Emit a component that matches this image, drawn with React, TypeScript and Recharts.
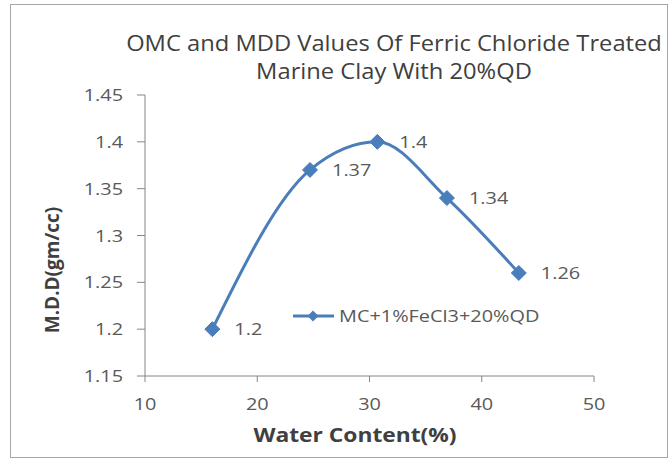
import React from 'react';
import { LineChart, Line, XAxis, YAxis, LabelList, Legend, Label } from 'recharts';

const waterContent = [16, 24.7, 30.7, 36.9, 43.3];
const mdd = [1.2, 1.37, 1.4, 1.34, 1.26];
const xTicks = [10, 20, 30, 40, 50];
const yTicks = [1.15, 1.2, 1.25, 1.3, 1.35, 1.4, 1.45];
const seriesName = 'MC+1%FeCl3+20%QD';
const titleLines = ['OMC and MDD Values Of Ferric Chloride Treated', 'Marine Clay With 20%QD'];
const xTitle = 'Water Content(%)';
const yTitle = 'M.D.D(gm/cc)';

const data = waterContent.map((x, i) => ({ x, y: mdd[i] }));

const BLUE = '#4A7EBB';
const TEXT = '#595959';
const DARK = '#404040';
const AXIS = '#868686';
const FONT = '"Open Sans", "Noto Sans", sans-serif';
const SX = 1.17;

const SText = (props: any) => {
  const { x, y, sx = SX, children, ...rest } = props;
  return (
    <text transform={`translate(${x},${y}) scale(${sx},1)`} x={0} y={0} fontFamily={FONT} {...rest}>
      {children}
    </text>
  );
};

const Diamond = (props: any) => {
  const { cx, cy } = props;
  if (cx == null || cy == null) return null;
  const r = 7.5;
  return (
    <polygon
      points={`${cx},${cy - r} ${cx + r},${cy} ${cx},${cy + r} ${cx - r},${cy}`}
      fill={BLUE}
      stroke={BLUE}
      strokeWidth={1}
    />
  );
};

const XTick = (props: any) => {
  const { x, y, payload } = props;
  return (
    <SText x={x} y={y} dy="0.71em" textAnchor="middle" fontSize={17} fill={TEXT}>
      {payload.value}
    </SText>
  );
};

const YTick = (props: any) => {
  const { x, y, payload } = props;
  return (
    <SText x={x} y={y} dy="0.36em" textAnchor="end" fontSize={17} fill={TEXT}>
      {payload.value}
    </SText>
  );
};

const PointLabel = (props: any) => {
  const { x, y, value } = props;
  return (
    <SText x={x + 22} y={y} dy="0.36em" textAnchor="start" fontSize={17} fill={TEXT}>
      {value}
    </SText>
  );
};

const LegendContent = () => (
  <div style={{ display: 'flex', alignItems: 'center', fontFamily: FONT, fontSize: 17, color: TEXT, whiteSpace: 'nowrap' }}>
    <svg width={44} height={16}>
      <line x1={1} y1={8} x2={42} y2={8} stroke={BLUE} strokeWidth={3} />
      <polygon points="21,2.5 26.5,8 21,13.5 15.5,8" fill={BLUE} />
    </svg>
    <span style={{ marginLeft: 3, display: 'inline-block', transform: `scaleX(${SX})`, transformOrigin: 'left center' }}>
      {seriesName}
    </span>
  </div>
);

export default function App() {
  return (
    <div style={{ position: 'absolute', left: 0, top: 0, width: 670, height: 465, background: '#fff' }}>
      <div
        style={{
          position: 'absolute',
          left: 10,
          top: 4,
          width: 656,
          height: 452,
          border: '1.5px solid #a6a6a6',
        }}
      />
      <div style={{ position: 'absolute', left: 0, top: 0 }}>
        <LineChart
          width={670}
          height={465}
          data={data}
          margin={{ top: 95, right: 76, bottom: 59, left: 85 }}
        >
          <SText x={394} y={51} sx={1.13} textAnchor="middle" fontSize={21} fill={DARK}>
            {titleLines[0]}
          </SText>
          <SText x={394} y={79} sx={1.13} textAnchor="middle" fontSize={21} fill={DARK}>
            {titleLines[1]}
          </SText>
          <XAxis
            dataKey="x"
            type="number"
            domain={[10, 50]}
            ticks={xTicks}
            height={30}
            stroke={AXIS}
            tickSize={6}
            tickMargin={16}
            tick={<XTick />}
          >
            <Label
              content={() => (
                <SText x={355} y={442} sx={1.2} textAnchor="middle" fontSize={19} fontWeight="bold" fill={DARK}>
                  {xTitle}
                </SText>
              )}
            />
          </XAxis>
          <YAxis
            dataKey="y"
            type="number"
            domain={[1.15, 1.45]}
            ticks={yTicks}
            width={60}
            stroke={AXIS}
            tickSize={8}
            tickMargin={14}
            tick={<YTick />}
          >
            <Label
              content={() => (
                <text
                  x={52}
                  y={270}
                  transform="rotate(-90 52 270)"
                  textAnchor="middle"
                  dominantBaseline="central"
                  fontFamily={FONT}
                  fontSize={19}
                  fontWeight="bold"
                  fill={DARK}
                >
                  {yTitle}
                </text>
              )}
            />
          </YAxis>
          <Legend
            layout="horizontal"
            verticalAlign="middle"
            align="center"
            content={<LegendContent />}
            wrapperStyle={{ position: 'absolute', left: 292, top: 304, width: 'auto', height: 'auto' }}
          />
          <Line
            name={seriesName}
            type="monotone"
            dataKey="y"
            stroke={BLUE}
            strokeWidth={3}
            dot={<Diamond />}
            activeDot={false}
            isAnimationActive={false}
          >
            <LabelList dataKey="y" content={<PointLabel />} />
          </Line>
        </LineChart>
      </div>
    </div>
  );
}
